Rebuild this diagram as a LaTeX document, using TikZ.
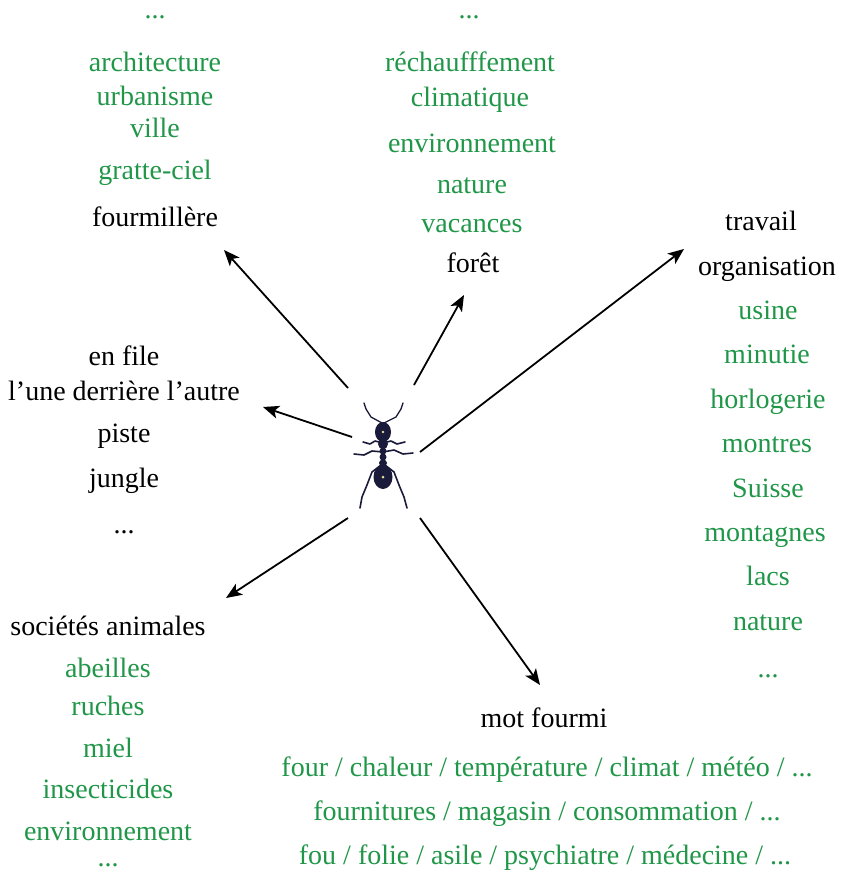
\documentclass[tikz,border=0pt]{standalone}
\usepackage{fontspec}
\setmainfont{Liberation Serif}
\usetikzlibrary{arrows.meta}
\definecolor{wordgreen}{RGB}{32,150,72}
\definecolor{antbody}{RGB}{26,26,58}
\definecolor{antshine}{RGB}{235,220,150}
\tikzset{
  word/.style={anchor=base, inner sep=0pt, font=\fontsize{28}{32}\selectfont},
  assoc/.style={word, text=wordgreen},
  key/.style={word, text=black},
  link/.style={line width=1.8pt, -{Stealth[length=16pt,width=13pt,inset=4pt]}},
  leg/.style={line width=1.6pt, antbody, line cap=round, line join=round},
}
\begin{document}
\begin{tikzpicture}[x=1pt,y=-1pt]
\useasboundingbox (0,0) rectangle (847,873);

% ---- upper left: city ----
\node[assoc] (ul0) at (155,18) {...};
\node[assoc] (ul1) at (155,71) {architecture};
\node[assoc] (ul2) at (155,105) {urbanisme};
\node[assoc] (ul3) at (155,137) {ville};
\node[assoc] (ul4) at (155,179) {gratte-ciel};
\node[key]   (ul5) at (155,226) {fourmillère};

% ---- upper middle: forest ----
\node[assoc] (um0) at (469,18) {...};
\node[assoc] (um1) at (470,71) {réchaufffement};
\node[assoc] (um2) at (470,106) {climatique};
\node[assoc] (um3) at (472,152) {environnement};
\node[assoc] (um4) at (472,193) {nature};
\node[assoc] (um5) at (472,232) {vacances};
\node[key]   (um6) at (473,272) {forêt};

% ---- right: work ----
\node[key]   (r1) at (761,230) {travail};
\node[key]   (r2) at (767,275) {organisation};
\node[assoc] (r3) at (768,319) {usine};
\node[assoc] (r4) at (767,363) {minutie};
\node[assoc] (r5) at (768,408) {horlogerie};
\node[assoc] (r6) at (767,452) {montres};
\node[assoc] (r7) at (768,497) {Suisse};
\node[assoc] (r8) at (765,541) {montagnes};
\node[assoc] (r9) at (768,585) {lacs};
\node[assoc] (r10) at (768,630) {nature};
\node[assoc] (r11) at (768,677) {...};

% ---- left: trail ----
\node[key] (l1) at (124,365) {en file};
\node[key] (l2) at (124,400) {l’une derrière l’autre};
\node[key] (l3) at (124,442) {piste};
\node[key] (l4) at (124,487) {jungle};
\node[key] (l5) at (124,533) {...};

% ---- lower left: animal societies ----
\node[key]   (ll1) at (108,635) {sociétés animales};
\node[assoc] (ll2) at (108,677) {abeilles};
\node[assoc] (ll3) at (108,715) {ruches};
\node[assoc] (ll4) at (108,757) {miel};
\node[assoc] (ll5) at (108,798) {insecticides};
\node[assoc] (ll6) at (108,840) {environnement};
\node[assoc] (ll7) at (108,866) {...};

% ---- lower right: the word itself ----
\node[key]   (lr1) at (544,727) {mot fourmi};
\node[assoc] (lr2) at (547,776) {four / chaleur / température / climat / météo / ...};
\node[assoc] (lr3) at (547,820) {fournitures / magasin / consommation / ...};
\node[assoc] (lr4) at (545,864) {fou / folie / asile / psychiatre / médecine / ...};

% ---- the ant ----
\node[inner sep=0pt, minimum size=70pt] (ant) at (383,452) {};
% antennae
\draw[leg, line width=1.3pt] (382,423) -- (371,417) -- (366,409) -- (364,403);
\draw[leg, line width=1.3pt] (384,423) -- (396,417) -- (401,409) -- (403,403);
% front legs
\draw[leg] (383,443) -- (375,441) -- (370,444) -- (363,442);
\draw[leg] (383,443) -- (391,441) -- (397,444) -- (405,442);
% middle legs
\draw[leg] (383,452) -- (372,451) -- (364,455) -- (354,454);
\draw[leg] (383,452) -- (394,450) -- (403,454) -- (413,453);
% hind legs
\draw[leg] (381,465) -- (372,472) -- (367,485) -- (362,497) -- (360,508);
\draw[leg] (385,465) -- (394,472) -- (399,485) -- (404,497) -- (407,508);
% body segments
\fill[antbody] (383,432) ellipse [x radius=8pt, y radius=10pt];
\fill[antbody] (383,444) ellipse [x radius=5pt, y radius=5pt];
\fill[antbody] (383,451) ellipse [x radius=3.5pt, y radius=3.5pt];
\fill[antbody] (383,457) ellipse [x radius=3.5pt, y radius=3.5pt];
\fill[antbody] (383,463) ellipse [x radius=4pt, y radius=3.5pt];
\fill[antbody] (383,477) ellipse [x radius=9.5pt, y radius=12pt];
\fill[antshine] (383,432) circle [radius=1.3pt];
\fill[antshine] (383,477) circle [radius=1.5pt];

% ---- arrow ends ----
\coordinate (s1) at (348,388); \coordinate (t1) at (224,250);
\coordinate (s2) at (414,385); \coordinate (t2) at (464,295);
\coordinate (s3) at (420,452); \coordinate (t3) at (684,249);
\coordinate (s4) at (352,437); \coordinate (t4) at (263,407);
\coordinate (s5) at (348,518); \coordinate (t5) at (226,598);
\coordinate (s6) at (420,518); \coordinate (t6) at (540,685);

\draw[link] (s1) -- (t1);
\draw[link] (s2) -- (t2);
\draw[link] (s3) -- (t3);
\draw[link] (s4) -- (t4);
\draw[link] (s5) -- (t5);
\draw[link] (s6) -- (t6);
\end{tikzpicture}
\end{document}
